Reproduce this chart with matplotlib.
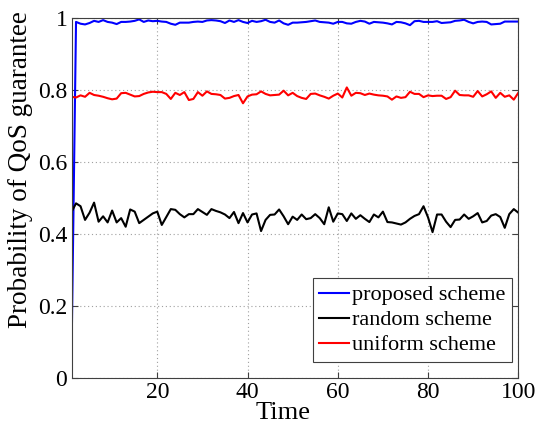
import numpy as np
import matplotlib
matplotlib.use("Agg")
import matplotlib.pyplot as plt

# values, one per time step (t = 1..100)
time = np.arange(1, 101)

proposed = [0.06, 0.99, 0.985, 0.983, 0.987, 0.993, 0.99, 0.995, 0.99, 0.988,
            0.984, 0.99, 0.99, 0.991, 0.993, 0.997, 0.99, 0.994, 0.992, 0.993,
            0.991, 0.99, 0.985, 0.982, 0.988, 0.988, 0.988, 0.99, 0.991, 0.99,
            0.994, 0.995, 0.994, 0.992, 0.987, 0.994, 0.99, 0.995, 0.99, 0.987,
            0.993, 0.99, 0.992, 0.996, 0.99, 0.988, 0.994, 0.986, 0.982, 0.988,
            0.988, 0.989, 0.99, 0.992, 0.994, 0.99, 0.989, 0.988, 0.985, 0.99,
            0.99, 0.986, 0.985, 0.99, 0.993, 0.991, 0.985, 0.99, 0.989, 0.988,
            0.986, 0.983, 0.99, 0.989, 0.986, 0.981, 0.992, 0.993, 0.99, 0.99,
            0.99, 0.992, 0.987, 0.988, 0.989, 0.993, 0.994, 0.996, 0.99, 0.986,
            0.99, 0.991, 0.99, 0.983, 0.984, 0.985, 0.991, 0.991, 0.991, 0.991]

random_s = [0.462, 0.486, 0.478, 0.44, 0.46, 0.488, 0.435, 0.45, 0.433, 0.466,
            0.433, 0.445, 0.421, 0.469, 0.463, 0.431, 0.44, 0.449, 0.458, 0.463,
            0.426, 0.448, 0.47, 0.468, 0.456, 0.447, 0.456, 0.456, 0.47, 0.462,
            0.454, 0.47, 0.465, 0.461, 0.455, 0.445, 0.462, 0.431, 0.459, 0.433,
            0.455, 0.458, 0.409, 0.44, 0.454, 0.455, 0.469, 0.45, 0.428, 0.449,
            0.44, 0.455, 0.442, 0.445, 0.456, 0.445, 0.428, 0.475, 0.435, 0.458,
            0.456, 0.437, 0.458, 0.443, 0.453, 0.443, 0.434, 0.455, 0.447, 0.463,
            0.434, 0.433, 0.43, 0.427, 0.433, 0.443, 0.451, 0.456, 0.478, 0.447,
            0.406, 0.455, 0.455, 0.435, 0.42, 0.44, 0.441, 0.455, 0.443, 0.45,
            0.459, 0.433, 0.437, 0.452, 0.456, 0.448, 0.418, 0.456, 0.47, 0.46]

uniform = [0.782, 0.78, 0.786, 0.782, 0.793, 0.787, 0.785, 0.782, 0.778, 0.775,
           0.777, 0.792, 0.793, 0.788, 0.783, 0.784, 0.79, 0.794, 0.796, 0.795,
           0.795, 0.79, 0.776, 0.793, 0.787, 0.795, 0.773, 0.776, 0.795, 0.785,
           0.797, 0.79, 0.789, 0.787, 0.777, 0.779, 0.784, 0.787, 0.764, 0.783,
           0.788, 0.789, 0.797, 0.79, 0.786, 0.787, 0.788, 0.799, 0.786, 0.793,
           0.784, 0.779, 0.776, 0.79, 0.791, 0.786, 0.782, 0.777, 0.785, 0.791,
           0.78, 0.808, 0.785, 0.793, 0.792, 0.787, 0.791, 0.788, 0.786, 0.785,
           0.783, 0.774, 0.783, 0.779, 0.781, 0.796, 0.79, 0.79, 0.781, 0.786,
           0.784, 0.785, 0.785, 0.776, 0.781, 0.799, 0.787, 0.786, 0.786, 0.782,
           0.798, 0.783, 0.789, 0.797, 0.779, 0.793, 0.782, 0.786, 0.774, 0.793]

xticks = [20, 40, 60, 80, 100]
yticks = [0, 0.2, 0.4, 0.6, 0.8, 1]
ytick_labels = ["0", "0.2", "0.4", "0.6", "0.8", "1"]

plt.rcParams["font.family"] = ["Liberation Serif", "DejaVu Serif"]
plt.rcParams["font.size"] = 17

fig = plt.figure(figsize=(5.48, 4.26), dpi=100)
ax = fig.add_axes([0.1305, 0.112, 0.8153, 0.845])

ax.plot(time, proposed, color="#0000ff", lw=1.5, label="proposed scheme")
ax.plot(time, random_s, color="black", lw=1.5, label="random scheme")
ax.plot(time, uniform, color="#ff0000", lw=1.5, label="uniform scheme")

ax.set_xlim(1, 100)
ax.set_ylim(0, 1)
ax.set_xticks(xticks)
ax.set_yticks(yticks)
ax.set_yticklabels(ytick_labels)
ax.tick_params(direction="in", top=True, right=True, length=4, color="#404040",
               labelsize=17, pad=3)
for s in ax.spines.values():
    s.set_color("#404040")
    s.set_linewidth(0.8)
ax.grid(True, linestyle=(0, (1, 2.5)), color="#a0a0a0", lw=0.8)

ax.set_xlabel("Time", fontsize=19)
ax.set_ylabel("Probability of QoS guarantee", fontsize=19.5)
ax.xaxis.set_label_coords(0.474, -0.065, transform=ax.transAxes)
ax.yaxis.set_label_coords(-0.087, 0.58, transform=ax.transAxes)

leg = ax.legend(loc="lower right", bbox_to_anchor=(0.985, 0.045), fontsize=16,
                fancybox=False, edgecolor="#404040", framealpha=1,
                handlelength=1.35, handletextpad=0.1, borderpad=0.3,
                labelspacing=0.2, borderaxespad=0.0)
leg.get_frame().set_linewidth(0.8)

fig.savefig("out.png", dpi=100)
